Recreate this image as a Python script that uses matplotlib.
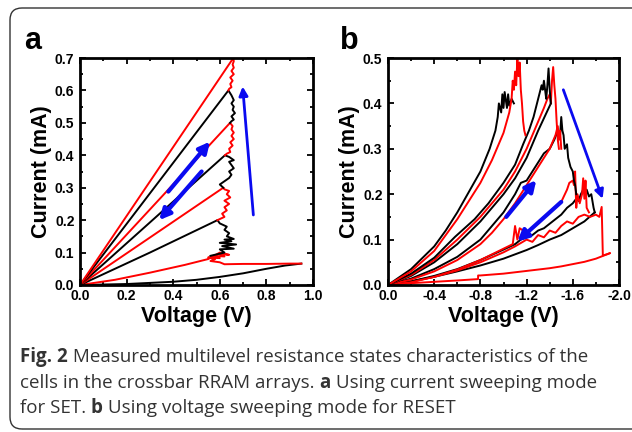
import matplotlib
matplotlib.use('Agg')
import matplotlib.pyplot as plt
from matplotlib.patches import FancyBboxPatch, FancyArrowPatch
from matplotlib.ticker import MultipleLocator

# ---- panel a: current sweeping SET (V, mA) ----
a_blk1_v = [0, 0.2, 0.4, 0.5, 0.6, 0.7, 0.8, 0.88, 0.95]
a_blk1_i = [0, 0.003, 0.01, 0.016, 0.025, 0.036, 0.05, 0.06, 0.066]

a_red1_v = [0.95, 0.9, 0.8, 0.7, 0.62, 0.6, 0.56, 0.58, 0.55, 0.6, 0.57, 0.62, 0.6, 0.64, 0.6, 0.55,
            0.45, 0.3, 0.15, 0]
a_red1_i = [0.066, 0.066, 0.065, 0.065, 0.064, 0.07, 0.074, 0.08, 0.085, 0.083, 0.09, 0.088, 0.095, 0.093,
            0.1, 0.08, 0.062, 0.038, 0.016, 0]

a_blk2_v = [0.56, 0.62, 0.6, 0.66, 0.61, 0.67, 0.6, 0.65, 0.62, 0.66, 0.63, 0.64, 0.62, 0.63, 0.6, 0.59, 0.3, 0]
a_blk2_i = [0.09, 0.1, 0.11, 0.112, 0.12, 0.125, 0.13, 0.135, 0.14, 0.142, 0.15, 0.16, 0.17, 0.18, 0.19, 0.2,
            0.1, 0]

a_red3_v = [0.59, 0.62, 0.61, 0.63, 0.62, 0.64, 0.62, 0.645, 0.63, 0.64, 0.62, 0.615, 0]
a_red3_i = [0.2, 0.21, 0.22, 0.23, 0.24, 0.25, 0.26, 0.27, 0.28, 0.29, 0.295, 0.3, 0]

a_blk4_v = [0.615, 0.6, 0.62, 0.64, 0.65, 0.64, 0.66, 0.65, 0.64, 0.66, 0.64, 0.622, 0]
a_blk4_i = [0.3, 0.31, 0.32, 0.33, 0.34, 0.35, 0.36, 0.37, 0.38, 0.385, 0.395, 0.4, 0]

a_red5_v = [0.622, 0.63, 0.645, 0.64, 0.655, 0.645, 0.66, 0.65, 0.66, 0.65, 0.655, 0.644, 0]
a_red5_i = [0.4, 0.405, 0.41, 0.42, 0.43, 0.44, 0.45, 0.46, 0.47, 0.48, 0.49, 0.5, 0]

a_blk6_v = [0.644, 0.65, 0.66, 0.65, 0.665, 0.655, 0.66, 0.65, 0.66, 0.65, 0.637, 0]
a_blk6_i = [0.5, 0.505, 0.51, 0.52, 0.53, 0.54, 0.55, 0.56, 0.57, 0.585, 0.6, 0]

a_red7_v = [0.637, 0.64, 0.65, 0.645, 0.655, 0.645, 0.66, 0.65, 0.66, 0.655, 0.66, 0.658, 0]
a_red7_i = [0.6, 0.605, 0.61, 0.62, 0.63, 0.64, 0.65, 0.66, 0.67, 0.68, 0.69, 0.7, 0]

# ---- panel b: voltage sweeping RESET (V, mA) ----
b_blk1_v = [0, -0.2, -0.4, -0.5, -0.6, -0.7, -0.8, -0.88, -0.93, -0.95, -0.96, -0.98, -0.99, -1.0, -1.01,
            -1.03, -1.04, -1.05, -1.07, -1.09]
b_blk1_i = [0, 0.035, 0.085, 0.12, 0.16, 0.205, 0.25, 0.3, 0.34, 0.37, 0.4, 0.38, 0.42, 0.39, 0.425,
            0.39, 0.42, 0.395, 0.41, 0.40]

b_red1_v = [0, -0.2, -0.4, -0.6, -0.8, -0.9, -1.0, -1.05, -1.07, -1.08, -1.09, -1.1, -1.11, -1.12, -1.13,
            -1.14, -1.15, -1.16, -1.17, -1.18, -1.19]
b_red1_i = [0, 0.03, 0.075, 0.145, 0.225, 0.275, 0.335, 0.38, 0.41, 0.45, 0.43, 0.47, 0.44, 0.5, 0.46,
            0.49, 0.43, 0.4, 0.36, 0.34, 0.33]

b_blk2_v = [0, -0.2, -0.4, -0.58, -0.75, -0.87, -1.0, -1.1, -1.17, -1.22, -1.26, -1.29, -1.31, -1.33, -1.34,
            -1.35, -1.36, -1.37, -1.38, -1.39, -1.40, -1.41]
b_blk2_i = [0, 0.025, 0.06, 0.106, 0.145, 0.18, 0.225, 0.265, 0.31, 0.34, 0.37, 0.4, 0.42, 0.44, 0.43,
            0.45, 0.43, 0.41, 0.44, 0.477, 0.43, 0.40]

b_red2_v = [0, -0.2, -0.4, -0.6, -0.8, -0.9, -1.0, -1.1, -1.2, -1.3, -1.35, -1.38, -1.4, -1.41, -1.42,
            -1.43, -1.44, -1.45, -1.46, -1.47, -1.48]
b_red2_i = [0, 0.022, 0.055, 0.1, 0.15, 0.18, 0.21, 0.25, 0.3, 0.36, 0.39, 0.41, 0.42, 0.40, 0.45,
            0.48, 0.44, 0.41, 0.36, 0.32, 0.30]

b_blk2r_v = [-1.41, -1.3, -1.2, -1.1, -1.0, -0.8, -0.6, -0.4, -0.2, 0]
b_blk2r_i = [0.40, 0.34, 0.28, 0.235, 0.2, 0.14, 0.09, 0.05, 0.02, 0]

b_red3_v = [0, -0.2, -0.4, -0.6, -0.8, -0.9, -1.0, -1.1, -1.2, -1.3, -1.4, -1.45, -1.47, -1.48, -1.49, -1.5]
b_red3_i = [0, 0.012, 0.03, 0.055, 0.09, 0.115, 0.145, 0.18, 0.22, 0.26, 0.3, 0.33, 0.35, 0.32, 0.34, 0.3]

b_blk3_v = [0, -0.2, -0.4, -0.6, -0.8, -1.0, -1.1, -1.15, -1.2, -1.25, -1.3, -1.35, -1.4, -1.44, -1.47,
            -1.49, -1.5, -1.51, -1.52, -1.53, -1.55, -1.56, -1.58, -1.6, -1.61, -1.62, -1.63]
b_blk3_i = [0, 0.014, 0.035, 0.062, 0.1, 0.16, 0.2, 0.225, 0.23, 0.25, 0.27, 0.29, 0.3, 0.32, 0.34,
            0.33, 0.37, 0.34, 0.33, 0.3, 0.31, 0.28, 0.26, 0.25, 0.23, 0.22, 0.2]

b_red4_v = [0, -0.2, -0.4, -0.6, -0.8, -1.0, -1.08, -1.1, -1.12, -1.14, -1.2, -1.3, -1.4, -1.5, -1.55,
            -1.57, -1.6, -1.61, -1.62, -1.63, -1.64, -1.66, -1.68, -1.69, -1.7, -1.71, -1.72, -1.74]
b_red4_i = [0, 0.006, 0.018, 0.034, 0.055, 0.08, 0.09, 0.13, 0.1, 0.125, 0.115, 0.135, 0.16, 0.183, 0.21,
            0.225, 0.23, 0.22, 0.25, 0.17, 0.2, 0.18, 0.2, 0.235, 0.19, 0.23, 0.17, 0.16]

b_blk4_v = [0, -0.2, -0.4, -0.6, -0.8, -1.0, -1.1, -1.15, -1.2, -1.25, -1.3, -1.35, -1.4, -1.45, -1.5,
            -1.55, -1.6, -1.63, -1.65, -1.67, -1.69, -1.7, -1.72, -1.74, -1.76, -1.78, -1.79]
b_blk4_i = [0, 0.008, 0.02, 0.035, 0.055, 0.078, 0.09, 0.1, 0.105, 0.11, 0.12, 0.125, 0.135, 0.145, 0.155,
            0.17, 0.18, 0.19, 0.185, 0.2, 0.21, 0.205, 0.21, 0.195, 0.2, 0.17, 0.16]

b_blk5_v = [-1.79, -1.7, -1.6, -1.5, -1.4, -1.3, -1.2, -1.0, -0.8, -0.6, -0.4, -0.2, 0]
b_blk5_i = [0.16, 0.14, 0.125, 0.11, 0.1, 0.088, 0.077, 0.058, 0.043, 0.03, 0.018, 0.008, 0]

b_red5_v = [0, -0.2, -0.4, -0.6, -0.8, -1.0, -1.1, -1.2, -1.25, -1.3, -1.35, -1.4, -1.45, -1.5, -1.55,
            -1.6, -1.65, -1.7, -1.75, -1.8, -1.83, -1.85, -1.855, -1.86, -1.9, -1.92]
b_red5_i = [0, 0.007, 0.018, 0.032, 0.05, 0.072, 0.085, 0.1, 0.095, 0.11, 0.105, 0.12, 0.115, 0.13, 0.14,
            0.135, 0.15, 0.155, 0.15, 0.155, 0.15, 0.172, 0.12, 0.065, 0.068, 0.07]

b_red6_v = [-1.92, -1.88, -1.8, -1.7, -1.6, -1.5, -1.4, -1.2, -1.0, -0.8, -0.78, -0.78, -0.6, -0.4, -0.2, 0]
b_red6_i = [0.07, 0.066, 0.058, 0.051, 0.046, 0.041, 0.037, 0.031, 0.025, 0.021, 0.021, 0.013, 0.01,
            0.007, 0.004, 0]

a_xticks = [0.0, 0.2, 0.4, 0.6, 0.8, 1.0]
a_yticks = [0.0, 0.1, 0.2, 0.3, 0.4, 0.5, 0.6, 0.7]
b_xticks = [0.0, -0.4, -0.8, -1.2, -1.6, -2.0]
b_yticks = [0.0, 0.1, 0.2, 0.3, 0.4, 0.5]

caption_lines = [
    [("Fig. 2", True), (" Measured multilevel resistance states characteristics of the", False)],
    [("cells in the crossbar RRAM arrays. ", False), ("a", True), (" Using current sweeping mode", False)],
    [("for SET. ", False), ("b", True), (" Using voltage sweeping mode for RESET", False)],
]

RED = '#ff0000'
BLK = '#000000'
BLUE = '#0a0af0'

plt.rcParams['font.family'] = ['Liberation Sans', 'DejaVu Sans']
fig = plt.figure(figsize=(6.32, 4.32), dpi=100)

# rounded frame around the whole figure
frame = FancyBboxPatch((0.10, 0.03), 6.45, 4.21, boxstyle='round,pad=0,rounding_size=0.12',
                       transform=fig.dpi_scale_trans, fill=False, edgecolor='#333333', linewidth=1.0)
fig.patches.append(frame)

ax_a = fig.add_axes([80 / 632, 147 / 432, 233 / 632, 227 / 432])
ax_b = fig.add_axes([388 / 632, 147 / 432, 231 / 632, 227 / 432])

for v, i, c in [(a_blk1_v, a_blk1_i, BLK), (a_red1_v, a_red1_i, RED), (a_blk2_v, a_blk2_i, BLK),
                (a_red3_v, a_red3_i, RED), (a_blk4_v, a_blk4_i, BLK), (a_red5_v, a_red5_i, RED),
                (a_blk6_v, a_blk6_i, BLK), (a_red7_v, a_red7_i, RED)]:
    ax_a.plot(v, i, color=c, lw=1.4)

for v, i, c in [(b_red6_v, b_red6_i, RED), (b_blk5_v, b_blk5_i, BLK), (b_red5_v, b_red5_i, RED),
                (b_blk4_v, b_blk4_i, BLK), (b_red4_v, b_red4_i, RED), (b_blk3_v, b_blk3_i, BLK),
                (b_red3_v, b_red3_i, RED), (b_blk2r_v, b_blk2r_i, BLK), (b_red2_v, b_red2_i, RED),
                (b_blk2_v, b_blk2_i, BLK), (b_blk1_v, b_blk1_i, BLK), (b_red1_v, b_red1_i, RED)]:
    ax_b.plot(v, i, color=c, lw=1.4)


def arrow(ax, start, end, lw, scale):
    ax.add_patch(FancyArrowPatch(start, end, arrowstyle='-|>', mutation_scale=scale,
                                 color=BLUE, lw=lw, shrinkA=0, shrinkB=0, zorder=5))


arrow(ax_a, (0.379, 0.288), (0.558, 0.442), 3.0, 16)
arrow(ax_a, (0.522, 0.35), (0.34, 0.2), 3.0, 16)
arrow(ax_a, (0.744, 0.216), (0.698, 0.612), 2.0, 13)
arrow(ax_b, (-1.518, 0.43), (-1.858, 0.19), 2.0, 13)
arrow(ax_b, (-1.024, 0.15), (-1.284, 0.231), 3.0, 16)
arrow(ax_b, (-1.50, 0.183), (-1.12, 0.096), 3.0, 16)

ax_a.set_xlim(0, 1.0)
ax_a.set_ylim(0, 0.7)
ax_a.set_xticks(a_xticks)
ax_a.set_yticks(a_yticks)
ax_a.set_xticklabels(['%.1f' % t for t in a_xticks])
ax_a.set_yticklabels(['%.1f' % t for t in a_yticks])
ax_a.xaxis.set_minor_locator(MultipleLocator(0.1))
ax_a.yaxis.set_minor_locator(MultipleLocator(0.05))

ax_b.set_xlim(0, -2.0)
ax_b.set_ylim(0, 0.5)
ax_b.set_xticks(b_xticks)
ax_b.set_yticks(b_yticks)
ax_b.set_xticklabels(['%.1f' % t for t in b_xticks])
ax_b.set_yticklabels(['%.1f' % t for t in b_yticks])
ax_b.xaxis.set_minor_locator(MultipleLocator(0.2))
ax_b.yaxis.set_minor_locator(MultipleLocator(0.05))

for ax in (ax_a, ax_b):
    for s in ax.spines.values():
        s.set_linewidth(2.0)
    ax.tick_params(which='both', direction='in', top=True, right=True, width=1.3)
    ax.tick_params(which='major', length=4.5, labelsize=10)
    ax.tick_params(axis='x', which='major', pad=3)
    ax.tick_params(axis='y', which='major', pad=4)
    ax.tick_params(which='minor', length=2.5)
    for lab in ax.get_xticklabels() + ax.get_yticklabels():
        lab.set_fontweight('bold')
    ax.set_xlabel('Voltage (V)', fontsize=15.5, fontweight='bold', labelpad=2)
    ax.set_ylabel('Current (mA)', fontsize=15.5, fontweight='bold', labelpad=2)

fig.text(33 / 632, 1 - 49 / 432, 'a', fontsize=22, fontweight='bold', ha='center', va='baseline')
fig.text(349 / 632, 1 - 49 / 432, 'b', fontsize=22, fontweight='bold', ha='center', va='baseline')

# caption, with bold pieces laid out one after another
renderer = fig.canvas.get_renderer()
baselines = [362, 388, 413]
for line, base in zip(caption_lines, baselines):
    x = 20.0
    for txt, bold in line:
        t = fig.text(x / 632, 1 - base / 432, txt, fontsize=13.5, family=['Open Sans', 'DejaVu Sans'],
                     fontweight='bold' if bold else 'normal', color='#333333', va='baseline', ha='left')
        x += t.get_window_extent(renderer).width

fig.savefig('out.png', dpi=100)
